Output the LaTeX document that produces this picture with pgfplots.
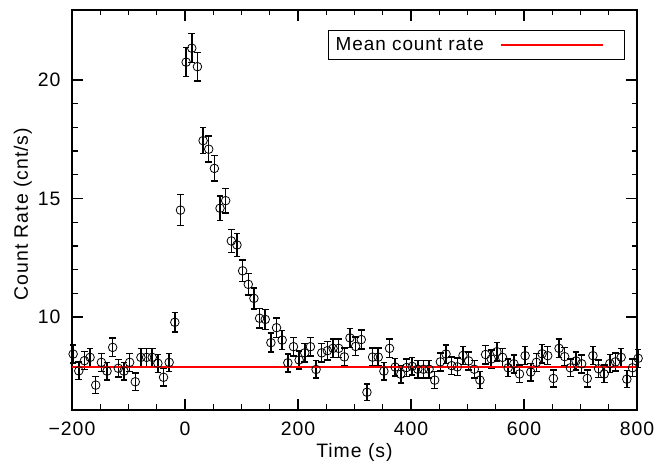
\documentclass[border=0pt]{standalone}
\usepackage{fontspec}
\setmainfont{Liberation Sans}[LetterSpace=5]
\usepackage{pgfplots}
\pgfplotsset{compat=1.18}
\begin{document}
\begin{tikzpicture}
\begin{axis}[
  at={(0,0)}, anchor=south west,
  scale only axis, width=565bp, height=400bp,
  xmin=-200, xmax=800, ymin=6.08, ymax=22.95,
  xtick={-200,0,200,400,600,800},
  xticklabels={−200,0,200,400,600,800},
  ytick={10,15,20},
  yticklabels={10,15,20},
  minor x tick num=3, minor y tick num=4,
  tick align=inside,
  major tick length=11bp, minor tick length=5.5bp,
  every tick/.style={black, line width=1.3bp},
  axis line style={line width=1.5bp},
  font=\fontsize{19.5}{22}\selectfont,
  xticklabel shift=8bp,
  yticklabel shift=8bp,
  xlabel={Time (s)}, ylabel={Count Rate (cnt/s)},
  xlabel style={at={(axis description cs:0.5,-0.107)}, anchor=center},
  ylabel style={at={(axis description cs:-0.087,0.49)}, anchor=center},
  clip=false,
  legend plot pos=right,
  legend style={at={(axis description cs:0.9788,0.95)}, anchor=north east,
    draw=black, line width=1.3bp, inner sep=5bp, font=\fontsize{19}{22}\selectfont,
    cells={anchor=west}},
  legend image code/.code={\path (0bp,0bp); \draw[red, line width=1.5bp] (14bp,0bp) -- (116bp,0bp); \path (132bp,0bp);},
]
\addplot[black, only marks, mark=o, mark size=4.3bp, mark options={line width=0.8bp}, forget plot,
  error bars/.cd, y dir=both, y explicit,
  error bar style={line width=1.5bp},
  error mark options={rotate=90, mark size=3.3bp, line width=1.5bp}]
  table[x=x, y=y, y error=e] {
x y e
-198 8.44 0.38
-188 7.73 0.37
-178 8.16 0.38
-168 8.30 0.38
-158 7.13 0.36
-148 8.09 0.38
-138 7.72 0.37
-128 8.72 0.39
-118 7.84 0.37
-108 7.72 0.37
-98 8.09 0.38
-88 7.27 0.36
-78 8.30 0.38
-68 8.30 0.38
-58 8.30 0.38
-48 8.05 0.38
-38 7.46 0.36
-28 8.09 0.38
-18 9.78 0.42
-8 14.51 0.65
2 20.75 0.61
12 21.34 0.61
22 20.56 0.60
32 17.44 0.55
42 17.08 0.55
52 16.27 0.54
62 14.59 0.52
72 14.91 0.52
82 13.21 0.49
92 13.04 0.48
102 11.95 0.46
112 11.38 0.45
122 10.79 0.44
132 9.95 0.42
142 9.90 0.42
152 8.92 0.40
162 9.55 0.41
172 9.03 0.40
182 8.07 0.38
192 8.75 0.39
202 8.19 0.38
212 8.49 0.39
222 8.75 0.39
232 7.79 0.37
242 8.49 0.39
252 8.58 0.39
262 8.68 0.39
272 8.68 0.39
282 8.32 0.38
292 9.12 0.40
302 8.76 0.39
312 9.05 0.40
322 6.83 0.35
332 8.31 0.38
342 8.31 0.38
352 7.72 0.37
362 8.68 0.39
372 7.89 0.37
382 7.59 0.37
392 7.87 0.37
402 7.92 0.37
412 7.80 0.37
422 7.80 0.37
432 7.80 0.37
442 7.34 0.36
452 8.11 0.38
462 8.44 0.39
472 7.95 0.37
482 7.90 0.37
492 8.38 0.38
502 8.15 0.38
512 7.80 0.37
522 7.34 0.36
532 8.42 0.39
542 8.23 0.38
552 8.54 0.39
562 8.30 0.38
572 7.86 0.37
582 8.03 0.38
592 7.60 0.37
602 8.37 0.38
612 7.68 0.37
622 8.09 0.38
632 8.45 0.39
642 8.37 0.38
652 7.41 0.36
662 8.68 0.39
672 8.33 0.38
682 7.86 0.37
692 8.15 0.38
702 8.03 0.38
712 7.41 0.36
722 8.37 0.38
732 7.82 0.37
742 7.60 0.37
752 8.04 0.38
762 8.11 0.38
772 8.30 0.38
782 7.38 0.36
792 7.86 0.37
802 8.26 0.38
};
\addplot[red, line width=1.5bp] coordinates {(-200,7.89) (800,7.89)};
\addlegendentry{Mean count rate}
\end{axis}
\pgfresetboundingbox
\path[use as bounding box] (-72bp,-53bp) rectangle (597bp,410bp);
\end{tikzpicture}
\end{document}
